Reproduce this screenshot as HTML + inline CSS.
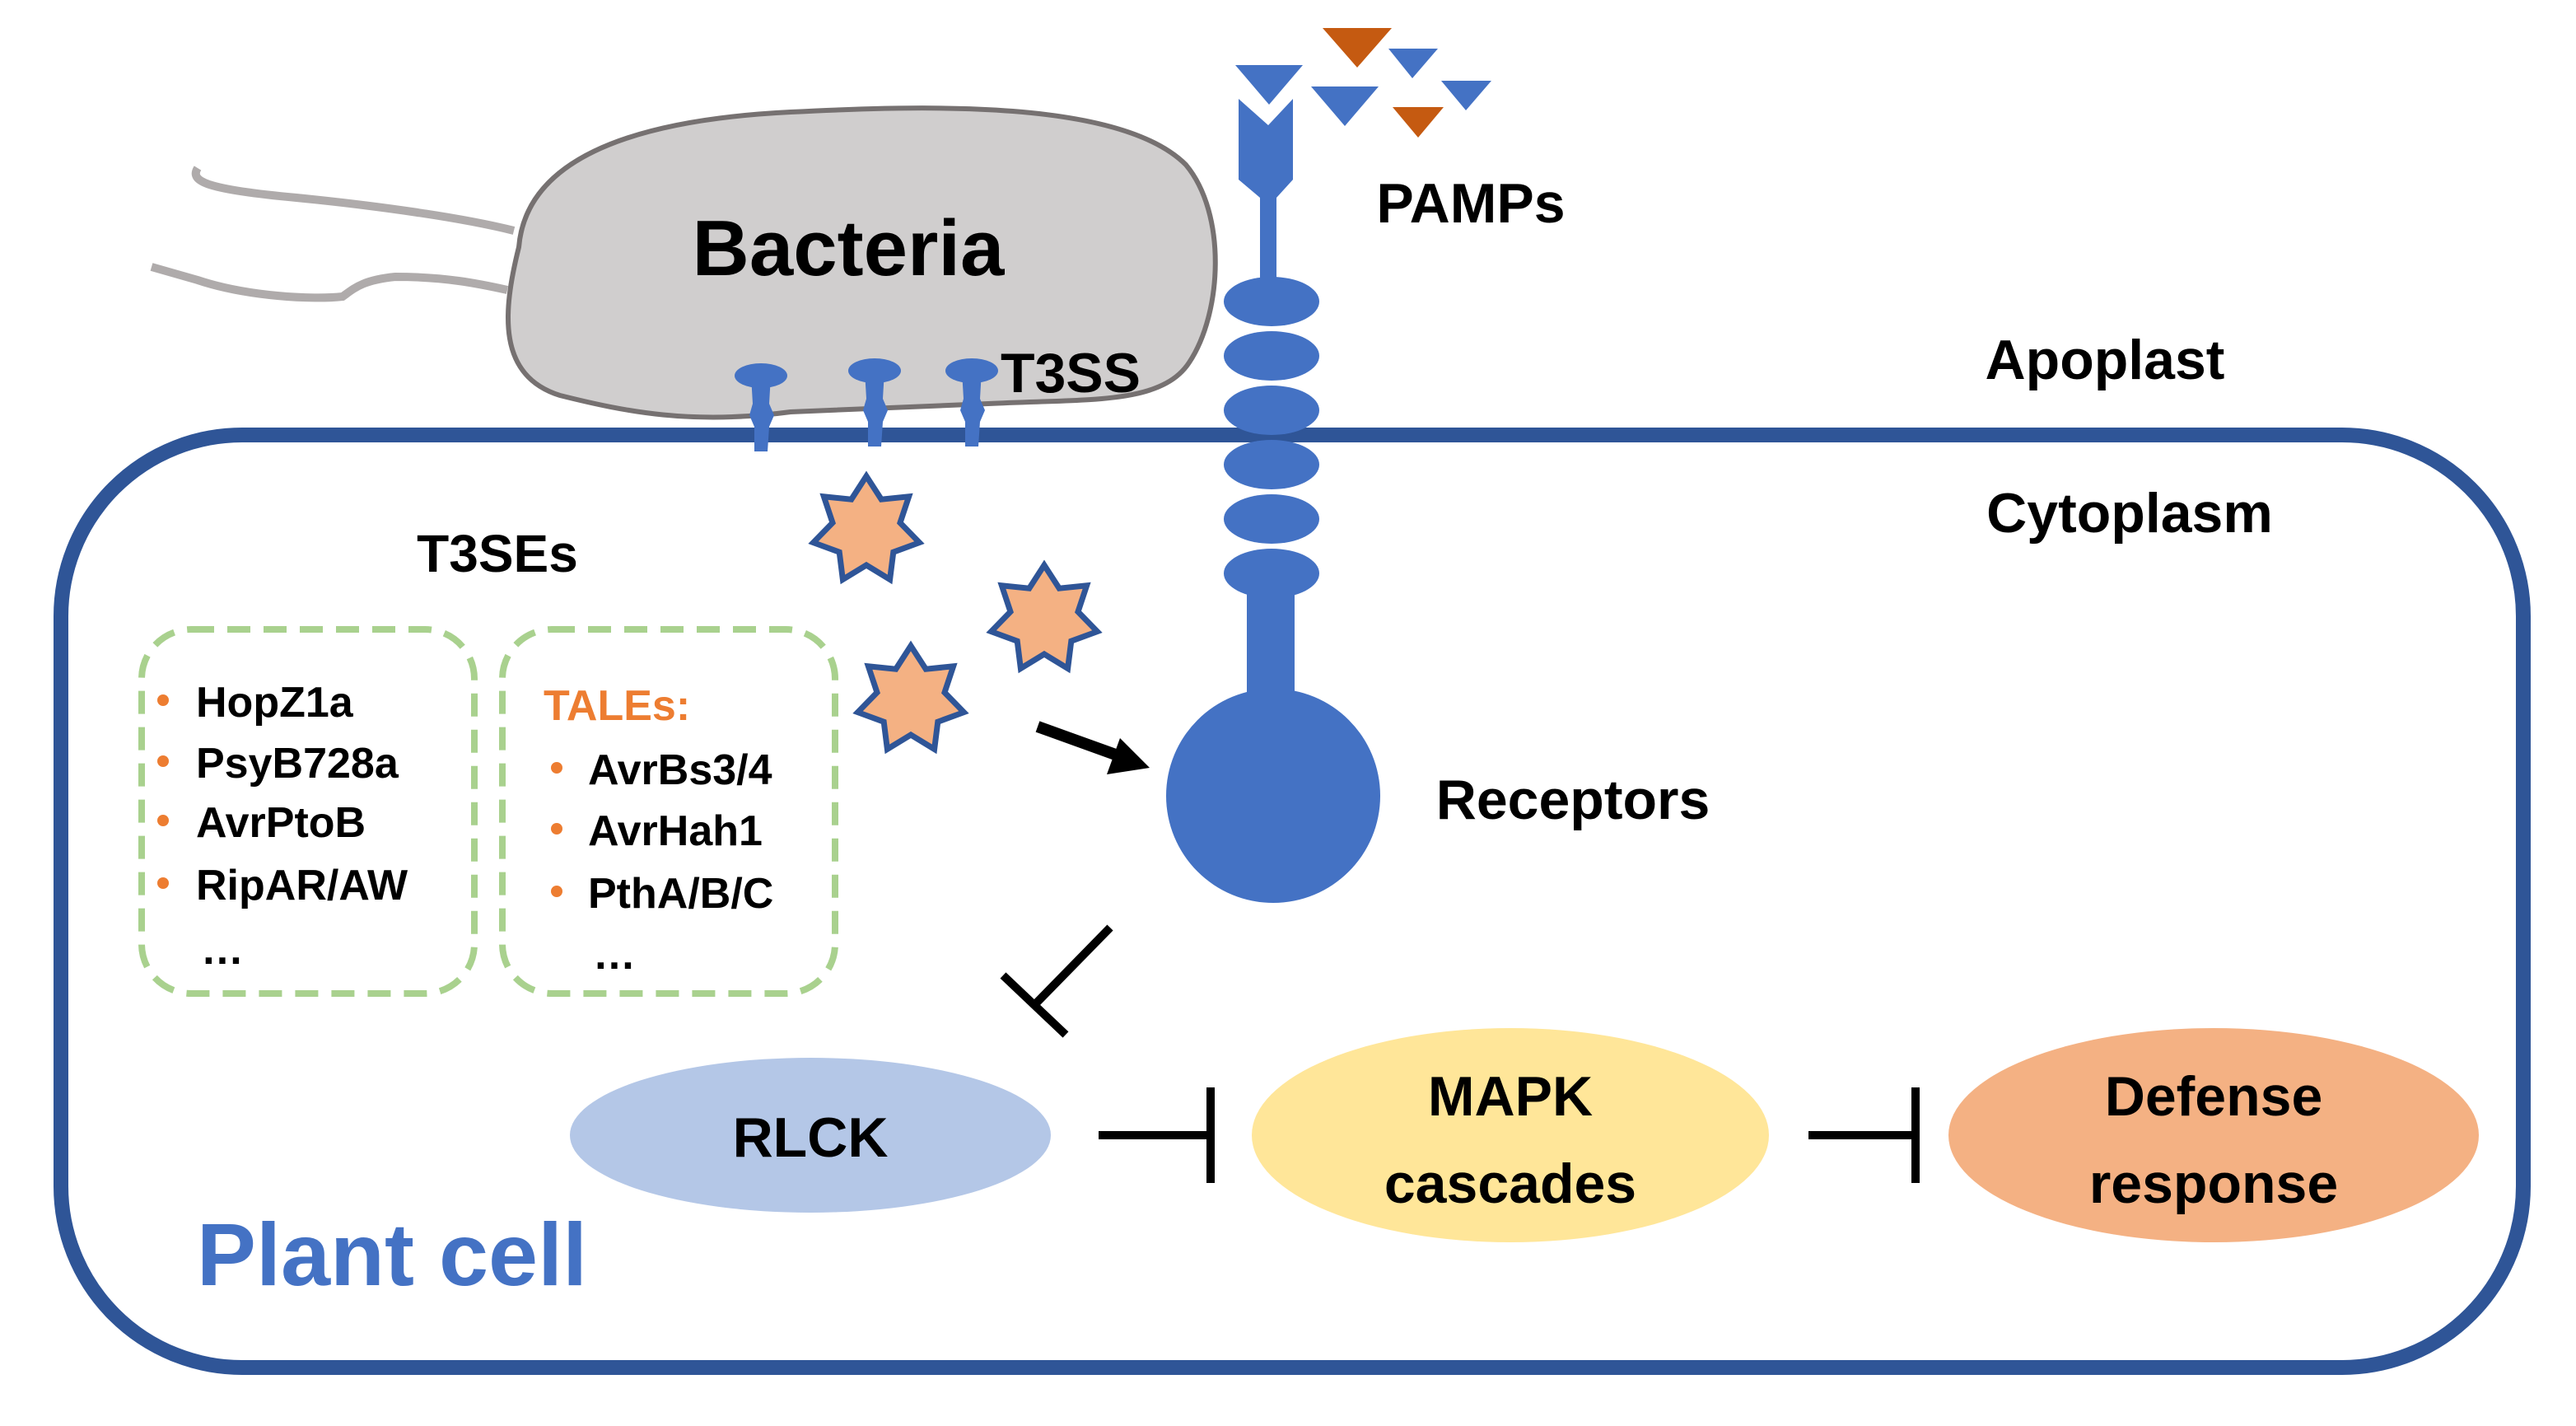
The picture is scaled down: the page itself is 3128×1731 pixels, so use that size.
<!DOCTYPE html>
<html><head><meta charset="utf-8"><style>
html,body{margin:0;padding:0;background:#fff}
svg{display:block}
text{font-family:"Liberation Sans",sans-serif;font-weight:bold}
</style></head><body>
<svg width="3128" height="1731" viewBox="0 0 1564 865.5" xmlns="http://www.w3.org/2000/svg">
<defs>
<path id="star" d="M0,-33 L9.1,-18.9 L25.8,-20.6 L20.5,-4.7 L32.2,7.3 L16.4,13.1 L14.3,29.7 L0,21 L-14.3,29.7 L-16.4,13.1 L-32.2,7.3 L-20.5,-4.7 L-25.8,-20.6 L-9.1,-18.9 Z" fill="#F4B183" stroke="#2F5597" stroke-width="3.5"/>
<g id="inj"><ellipse cx="0" cy="0" rx="16" ry="7.5" fill="#4472C4"/><path d="M-6,0 L6,0 L5,17 L8,24 L5,31 L4,46 L-4,46 L-4,31 L-7,24 L-5,17 Z" fill="#4472C4"/></g>
</defs>
<path d="M120,102 C115,110 125,115 180,120 C230,125 280,132 312,140" fill="none" stroke="#AFABAB" stroke-width="5"/>
<path d="M92,162 L120,170 C150,180 190,182 208,180 C215,175 220,170 240,168 C270,168 290,172 308,176" fill="none" stroke="#AFABAB" stroke-width="5"/>
<path d="M315,150 C320,90 400,72 480,68 C560,64 680,60 720,100 C745,130 742,190 722,220 C705,246 660,242 600,245 L480,250 C420,258 380,250 340,240 C302,228 305,190 315,150 Z" fill="#D0CECE" stroke="#767171" stroke-width="3"/>
<text x="515" y="167" font-size="48" text-anchor="middle">Bacteria</text>
<text x="650" y="238" font-size="34" text-anchor="middle">T3SS</text>
<rect x="37" y="264" width="1495" height="566" rx="110" ry="110" fill="none" stroke="#2F5597" stroke-width="9"/>
<use href="#inj" x="462" y="228"/>
<use href="#inj" x="531" y="225"/>
<use href="#inj" x="590" y="225"/>
<path d="M752,60 L770,76 L785,60 L785,109 L775,120 L775,175 L765,175 L765,120 L752,109 Z" fill="#4472C4"/>
<g fill="#4472C4">
<ellipse cx="772" cy="183" rx="29" ry="15"/><ellipse cx="772" cy="216" rx="29" ry="15"/><ellipse cx="772" cy="249" rx="29" ry="15"/>
<ellipse cx="772" cy="282" rx="29" ry="15"/><ellipse cx="772" cy="315" rx="29" ry="15"/><ellipse cx="772" cy="348" rx="29" ry="15"/>
<rect x="757" y="350" width="29" height="90"/>
<circle cx="773" cy="483" r="65"/>
</g>
<polygon points="750,39.5 791,39.5 770.5,63.5" fill="#4472C4"/>
<polygon points="803,17 845,17 824,41" fill="#C55A11"/>
<polygon points="796,52.5 837,52.5 816.5,76.5" fill="#4472C4"/>
<polygon points="843,29.5 873,29.5 857.5,47.5" fill="#4472C4"/>
<polygon points="845.5,65 876.5,65 861,83.5" fill="#C55A11"/>
<polygon points="875,49 905.5,49 890,67" fill="#4472C4"/>
<text x="893" y="135" font-size="34" text-anchor="middle">PAMPs</text>
<text x="1278" y="230" font-size="34" text-anchor="middle">Apoplast</text>
<text x="1293" y="323" font-size="34" text-anchor="middle">Cytoplasm</text>
<text x="955" y="497" font-size="34" text-anchor="middle">Receptors</text>
<use href="#star" x="526" y="322"/>
<use href="#star" x="634" y="376"/>
<use href="#star" x="553" y="425"/>
<line x1="630" y1="441" x2="680" y2="459" stroke="#000" stroke-width="7"/>
<polygon points="698,466 672,470 680,448" fill="#000"/>
<text x="302" y="347" font-size="32" text-anchor="middle">T3SEs</text>
<rect x="86" y="382" width="202" height="221" rx="30" fill="none" stroke="#A9D18E" stroke-width="4" stroke-dasharray="14 8"/>
<rect x="305" y="382" width="202" height="221" rx="30" fill="none" stroke="#A9D18E" stroke-width="4" stroke-dasharray="14 8"/>
<g font-size="26">
<text x="119" y="435">HopZ1a</text>
<text x="119" y="472">PsyB728a</text>
<text x="119" y="508">AvrPtoB</text>
<text x="119" y="546">RipAR/AW</text>
<text x="122" y="585">…</text>
<text x="330" y="437" fill="#ED7D31">TALEs:</text>
<text x="357" y="476">AvrBs3/4</text>
<text x="357" y="513">AvrHah1</text>
<text x="357" y="551">PthA/B/C</text>
<text x="360" y="588">…</text>
</g>
<g fill="#ED7D31">
<circle cx="99" cy="425" r="3.5"/><circle cx="99" cy="462" r="3.5"/><circle cx="99" cy="498" r="3.5"/><circle cx="99" cy="536" r="3.5"/>
<circle cx="338" cy="466" r="3.5"/><circle cx="338" cy="503" r="3.5"/><circle cx="338" cy="541" r="3.5"/>
</g>
<g stroke="#000" stroke-width="5" fill="none">
<line x1="674" y1="563" x2="628" y2="610"/>
<line x1="609" y1="592" x2="647" y2="628"/>
<line x1="667" y1="689" x2="735" y2="689"/>
<line x1="735" y1="660" x2="735" y2="718"/>
<line x1="1098" y1="689" x2="1163" y2="689"/>
<line x1="1163" y1="660" x2="1163" y2="718"/>
</g>
<ellipse cx="492" cy="689" rx="146" ry="47" fill="#B4C7E7"/>
<text x="492" y="702" font-size="34" text-anchor="middle">RLCK</text>
<ellipse cx="917" cy="689" rx="157" ry="65" fill="#FFE699"/>
<text x="917" y="677" font-size="34" text-anchor="middle">MAPK</text>
<text x="917" y="730" font-size="34" text-anchor="middle">cascades</text>
<ellipse cx="1344" cy="689" rx="161" ry="65" fill="#F4B183"/>
<text x="1344" y="677" font-size="34" text-anchor="middle">Defense</text>
<text x="1344" y="730" font-size="34" text-anchor="middle">response</text>
<text x="238" y="780" font-size="54" fill="#4472C4" text-anchor="middle">Plant cell</text>
</svg>
</body></html>
